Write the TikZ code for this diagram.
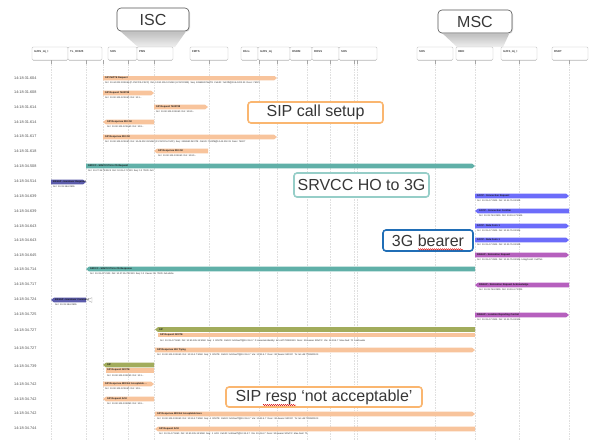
\documentclass[tikz,border=0pt]{standalone}
\usepackage{fontspec}
\setmainfont{Liberation Sans}
\usetikzlibrary{decorations.pathmorphing}
\definecolor{sipc}{RGB}{248,196,156}
\definecolor{tealc}{RGB}{96,176,168}
\definecolor{indc}{RGB}{92,92,172}
\definecolor{bluec}{RGB}{108,108,250}
\definecolor{magc}{RGB}{182,96,190}
\definecolor{olvc}{RGB}{162,172,92}
\definecolor{cOrange}{RGB}{250,182,112}
\definecolor{cTeal}{RGB}{150,206,200}
\definecolor{cBlue}{RGB}{32,110,182}
\definecolor{txtc}{RGB}{55,55,55}
\tikzset{
  tick/.style={draw=gray!70, line width=0.4pt},
  life/.style={draw=gray!25, line width=0.45pt, dash pattern=on 1.6pt off 1pt},
  hdrbox/.style={draw=gray!55, fill=white, rounded corners=1.2pt, line width=0.4pt},
  hdrtxt/.style={anchor=west, inner sep=0pt, font=\fontsize{2.8}{3}\selectfont\bfseries, text=black!75},
  lbl/.style={anchor=west, inner sep=0pt, font=\fontsize{2.4}{3}\selectfont\bfseries, text=black!90},
  dtl/.style={anchor=west, inner sep=0pt, font=\fontsize{2.3}{3}\selectfont, text=black!85},
  ts/.style={anchor=west, inner sep=0pt, font=\fontsize{3.8}{4}\selectfont, text=black!70},
  callout/.style={fill=white, rounded corners=3pt, line width=1.6pt, inner sep=0pt, text=txtc, font=\fontsize{16}{18}\selectfont},
  tagbox/.style={fill=white, draw=gray!65!black, rounded corners=4pt, line width=0.6pt, inner sep=0pt, text=txtc, font=\fontsize{16}{18}\selectfont},
  squig/.style={draw=red!85!black, line width=0.35pt, decorate, decoration={snake, amplitude=0.7pt, segment length=2pt}}
}
% name, y, x1, x2, colour, label, detail  (head at right)
\newcommand\msgR[7]{%
  \fill[#5] (#3,#2-2.4) -- (#4-3,#2-2.4) -- (#4,#2) -- (#4-3,#2+2.4) -- (#3,#2+2.4) -- cycle;
  \node[lbl] (#1) at (#3+2,#2) {#6};
  \node[dtl] (#1d) at (#3+2,#2+4.8) {#7};}
% head at left
\newcommand\msgL[7]{%
  \fill[#5] (#3,#2) -- (#3+3,#2-2.4) -- (#4,#2-2.4) -- (#4,#2+2.4) -- (#3+3,#2+2.4) -- cycle;
  \node[lbl] (#1) at (#3+4,#2) {#6};
  \node[dtl] (#1d) at (#3+4,#2+4.8) {#7};}
% header box: name, x1, x2, label
\newcommand\hdr[4]{%
  \draw[gray!40, line width=0.9pt] (#2+1,60.4) -- (#3-1,60.4);
  \draw[hdrbox] (#2,47) rectangle (#3,60);
  \node[hdrtxt] (#1) at (#2+2,51.5) {#4};}
\begin{document}
\begin{tikzpicture}[x=1pt,y=-1pt]
\useasboundingbox (0,0) rectangle (593,440);
\fill[white] (0,0) rectangle (593,440);
% lifelines
\foreach \x [count=\i] in {51,86,103,128,154,209,259,277,307,330,354,357,435,475,519,569}{
  \coordinate (L\i) at (\x,60);
  \draw[life] (\x,64) -- (\x,440);
}
% ISC / MSC callouts with funnels
\shade[top color=gray!55, bottom color=gray!12] (119,30) -- (187,30) -- (175,47) -- (138,47) -- cycle;
\shade[top color=gray!55, bottom color=gray!12] (441,32) -- (510,32) -- (503,47) -- (457,47) -- cycle;
% header boxes
\hdr{h1}{32}{68}{IL/RS\_mj\_l}
\hdr{h2}{68}{102}{TL\_H0025}
\hdr{h3}{108}{137}{SHS}
\hdr{h4}{137}{173}{PMS}
\hdr{h5}{190}{228}{FMTS}
\hdr{h6}{241}{258}{Dbrs}
\hdr{h7}{258}{290}{IL/RS\_mj}
\hdr{h8}{290}{312}{HSDM}
\hdr{h9}{312}{339}{ROSS}
\hdr{h10}{339}{377}{SHS}
\hdr{h11}{417}{453}{SHS}
\hdr{h12}{456}{493}{HBD}
\hdr{h13}{501}{537}{IL/RS\_mj\_l}
\hdr{h14}{552}{588}{RSDT}
\foreach \x in {51,86,103,128,154,209,259,277,307,330,354,357,435,475,519,569}{
  \draw[tick] (\x,60) -- (\x,63.5);
}
\fill[gray!25, rounded corners=4pt] (118,9) rectangle (190,32);
\node[tagbox, minimum width=72pt, minimum height=23pt] (isc) at (153,19.5) {ISC};
\fill[gray!25, rounded corners=4pt] (439,11) rectangle (513,34);
\node[tagbox, minimum width=74pt, minimum height=23pt] (msc) at (475,21.5) {MSC};
% body
\begin{scope}
\clip (0,76) rectangle (593,440);
\foreach \y/\t [count=\i] in {78/14:18:31.604, 92/14:18:31.608, 107/14:18:31.614, 122/14:18:31.614, 136/14:18:31.617, 151/14:18:31.618, 166/14:18:34.508, 181/14:18:34.514, 196/14:18:34.639, 211/14:18:34.639, 226/14:18:34.643, 240/14:18:34.643, 255/14:18:34.645, 269/14:18:34.714, 284/14:18:34.717, 299/14:18:34.724, 314/14:18:34.725, 330/14:18:34.727, 348/14:18:34.727, 366/14:18:34.739, 384/14:18:34.742, 399/14:18:34.742, 413/14:18:34.742, 428/14:18:34.744}{
  \node[ts] (t\i) at (14,\y) {\t};
}
\msgR{m1}{78}{103}{277}{sipc}{SIP INVITE Request}{Src: 10.44.202.33:5060 (P-CSCF/S-CSCF)\ \ Dst: 10.90.105.12:5060 (I-CSCF/IMS)\ \ Seq: 2436590 INVITE\ \ Call-ID: 7e22f9@10.44.202.33\ \ Desc: 76027}
\msgR{m2}{93}{103}{154}{sipc}{SIP Request 7602788}{Src: 10.90.105.12:5060\ \ Dst: 10.1...}
\msgR{m3}{107}{154}{208}{sipc}{SIP Request 7602788}{Src: 10.90.105.13:5060\ \ Dst: 10.90...}
\msgL{m4}{122}{103}{154}{sipc}{SIP Response 200 OK}{Src: 10.90.105.12:5060\ \ Dst: 10.9...}
\msgR{m5}{137}{103}{277}{sipc}{SIP Response 200 OK}{Src: 10.90.105.12:5060\ \ Dst: 10.44.202.33:5060 (P-CSCF/S-CSCF)\ \ Seq: 2436590 INVITE\ \ Call-ID: 7e22f9@10.44.202.33\ \ Desc: 76027}
\msgL{m6}{151}{154}{208}{sipc}{SIP Response 200 OK}{Src: 10.90.105.13:5060\ \ Dst: 10.90...}
\msgR{m7}{166}{86}{475}{tealc}{SRVCC - SRVCC PS to CS Request}{Src: 10.27.35.79:2123\ \ Dst: 10.33.4.7:2123\ \ Seq: 12\ \ TEID: 0x0}
\msgR{m8}{182}{51}{86}{indc}{BSSAP - Handover Required}{Src: 10.33.18.6:2905}
\msgR{m9}{196}{475}{569}{bluec}{SCCP - Connection Request}{Src: 10.33.4.7:2905\ \ Dst: 10.33.75.9:2905}
\msgL{m10}{211}{475}{569}{bluec}{SCCP - Connection Confirm}{Src: 10.33.75.9:2905\ \ Dst: 10.33.4.7:2905}
\msgR{m11}{226}{475}{569}{bluec}{SCCP - Data Form 1}{Src: 10.33.4.7:2905\ \ Dst: 10.33.75.9:2905}
\msgR{m12}{240}{475}{569}{bluec}{SCCP - Data Form 1}{Src: 10.33.4.7:2905\ \ Dst: 10.33.75.9:2905}
\msgR{m13}{255}{475}{569}{magc}{RANAP - Relocation Request}{Src: 10.33.4.7:2905\ \ Dst: 10.33.75.9:2905\ \ IuSigConId: 0x3f7a1}
\msgL{m14}{269}{86}{475}{tealc}{SRVCC - SRVCC PS to CS Response}{Src: 10.33.4.7:2123\ \ Dst: 10.27.35.79:2123\ \ Seq: 12\ \ Cause: 16\ \ TEID: 0x1a3c0e}
\msgL{m15}{285}{475}{569}{magc}{RANAP - Relocation Request Acknowledge}{Src: 10.33.75.9:2905\ \ Dst: 10.33.4.7:2905}
\msgL{m16}{300}{51}{86}{indc}{BSSAP - Handover Command}{Src: 10.33.18.6:2905}
\draw[gray!60, line width=0.4pt] (87,300) -- (92,297.6) -- (92,302.4) -- cycle;
\msgR{m17}{315}{475}{569}{magc}{RANAP - Location Reporting Control}{Src: 10.33.4.7:2905\ \ Dst: 10.33.75.9:2905}
% stacked SIP (olive) + INVITE
\msgL{m18a}{329.5}{155}{475}{olvc}{SIP}{}
\fill[sipc] (158,332.6) rectangle (475,337.4);
\node[lbl] (m18) at (160,335) {SIP Request INVITE};
\node[dtl] (m18d) at (160,341) {Src: 10.33.4.7:5060\ \ Dst: 10.90.105.13:5060\ \ Seq: 1\ \ INVITE\ \ Call-ID: 5c90aa7f@10.33.4.7\ \ P-Asserted-Identity: tel:+447700900123\ \ Desc: 3G bearer SRVCC\ \ Via: 10.33.4.7\ \ Max-Fwd: 70\ \ hold audio};
\msgR{m19}{350}{155}{475}{sipc}{SIP Response 100 Trying}{Src: 10.90.105.13:5060\ \ Dst: 10.33.4.7:5060\ \ Seq: 1\ \ INVITE\ \ Call-ID: 5c90aa7f@10.33.4.7\ \ Via: 10.33.4.7\ \ Desc: 3G bearer SRVCC\ \ To: tel:+447700900123}
\msgL{m20a}{365}{103}{154}{olvc}{SIP}{}
\fill[sipc] (106,368) rectangle (154,372.6);
\node[lbl] (m20) at (107,370.2) {SIP Request INVITE};
\node[dtl] (m20d) at (107,375.5) {Src: 10.90.105.13:5060\ \ Dst: 10.1...};
\msgR{m21}{384}{103}{154}{sipc}{SIP Response 488 Not Acceptable ...}{Src: 10.90.105.12:5060\ \ Dst: 10.9...}
\msgL{m22}{399}{103}{154}{sipc}{SIP Request ACK}{Src: 10.90.105.13:5060\ \ Dst: 10.9...}
\msgR{m23}{414}{155}{475}{sipc}{SIP Response 488 Not Acceptable Here}{Src: 10.90.105.13:5060\ \ Dst: 10.33.4.7:5060\ \ Seq: 1\ \ INVITE\ \ Call-ID: 5c90aa7f@10.33.4.7\ \ Via: 10.33.4.7\ \ Desc: 3G bearer SRVCC\ \ To: tel:+447700900123}
\msgL{m24}{429}{155}{475}{sipc}{SIP Request ACK}{Src: 10.33.4.7:5060\ \ Dst: 10.90.105.13:5060\ \ Seq: 1\ \ ACK\ \ Call-ID: 5c90aa7f@10.33.4.7\ \ Via: 10.33.4.7\ \ Desc: 3G bearer SRVCC\ \ Max-Fwd: 70}
\end{scope}
% annotation callouts
\node[callout, draw=cOrange, minimum width=135pt, minimum height=21pt] (c1) at (315.5,112.5) {SIP call setup};
\node[callout, draw=cTeal, minimum width=135pt, minimum height=24pt] (c2) at (361.5,185) {SRVCC HO to 3G};
\node[callout, draw=cBlue, minimum width=90pt, minimum height=21pt] (c3) at (428,240.5) {3G bearer};
\node[callout, draw=cOrange, minimum width=196pt, minimum height=20pt] (c4) at (324,397) {SIP resp ‘not acceptable’};
\draw[squig] (418,249.3) -- (463,249.3);
\draw[squig] (263,405) -- (296,405);
\end{tikzpicture}
\end{document}
